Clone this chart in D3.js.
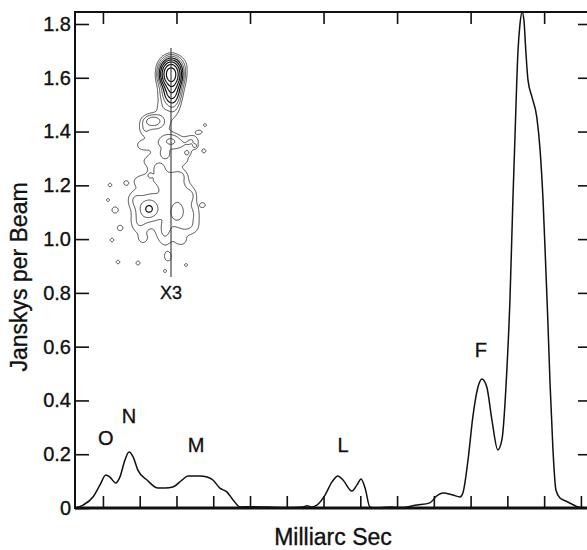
<!DOCTYPE html>
<html>
<head>
<meta charset="utf-8">
<script src="https://cdn.jsdelivr.net/npm/d3@7"></script>
<style>
  html, body { margin: 0; padding: 0; background: #fff; }
  svg { display: block; font-family: "Liberation Sans", Arial, sans-serif; }
  .lbl { fill: #111; stroke: #111; stroke-width: 0.35px; }
</style>
</head>
<body>
<div id="chart"></div>
<script>
// brightness profile along the jet (x in mas, y in Jy/beam)
const profileX = [0.24,0.46,0.73,0.92,1.08,1.19,1.35,1.46,1.60,1.71,1.82,1.95,2.20,2.50,2.69,2.90,3.15,3.31,3.64,3.83,3.99,4.18,4.37,4.54,4.73,5.08,5.90,6.44,6.55,6.68,6.82,7.04,7.23,7.39,7.53,7.77,7.91,8.02,8.13,8.26,8.40,8.81,9.08,9.54,9.89,10.08,10.25,10.52,10.71,10.79,10.93,11.06,11.20,11.31,11.44,11.58,11.74,11.85,11.99,12.07,12.15,12.21,12.29,12.34,12.40,12.45,12.50,12.56,12.67,12.80,12.89,12.97,13.05,13.10,13.16,13.24,13.32,13.43,13.59,13.75,13.92,14.16];
const profileY = [0,0.011,0.041,0.086,0.123,0.115,0.093,0.115,0.179,0.208,0.190,0.141,0.104,0.074,0.074,0.078,0.104,0.119,0.119,0.115,0.104,0.074,0.060,0.030,0.004,0.005,0.002,0.004,0.008,0.004,0.011,0.048,0.097,0.119,0.104,0.063,0.086,0.108,0.074,0.004,0,0.004,0.002,0.011,0.019,0.045,0.056,0.048,0.041,0.056,0.179,0.338,0.450,0.480,0.450,0.327,0.216,0.253,0.524,0.774,1.145,1.395,1.703,1.796,1.845,1.815,1.703,1.592,1.528,1.454,1.331,1.145,0.874,0.699,0.465,0.216,0.067,0.037,0.026,0.015,0.004,0];

const yTicks = [0, 0.2, 0.4, 0.6, 0.8, 1.0, 1.2, 1.4, 1.6, 1.8];
const yTickLabels = ["0", "0.2", "0.4", "0.6", "0.8", "1.0", "1.2", "1.4", "1.6", "1.8"];
const xTicksBottom = [1,2,3,4,5,6,7,8,9,10,11,12,13,14];
const xTicksTop = [1,3,5,7,9,11,13];

// component labels: name, x (mas), level (Jy/beam)
const compNames = ["O", "N", "M", "L", "F"];
const compX = [1.08, 1.71, 3.53, 7.53, 11.28];
const compY = [0.235, 0.317, 0.21, 0.208, 0.56];

// VLBI map inset: gaussian components [u, v, amp, su, sv] in map units
const jetBlobs = [
  [0, 2.9, 200, 0.45, 0.6], [0.1, 4.0, 40, 0.4, 0.9], [0, 3.3, 2.2, 0.95, 1.35],
  [0.25, 2.0, 3, 0.7, 0.5], [-0.4, 4.9, 2.5, 0.5, 0.6],
  [0.3, 5.9, 1.6, 0.45, 0.9], [-0.8, 6.2, 1.3, 0.5, 0.6],
  [-1.8, 7.6, 5, 0.55, 0.35], [-1.4, 7.9, 1.8, 1.1, 0.8], [-2.6, 8.4, 1.3, 0.4, 0.5],
  [0, 9.6, 3.5, 0.6, 0.45], [-1.2, 9.9, 1.5, 0.9, 0.7], [1.3, 10.1, 1.6, 1.0, 0.6],
  [-1.5, 11.6, 1.4, 1.3, 0.6], [0.8, 11.5, 1.3, 0.9, 0.5], [-2.9, 10.0, 1.3, 0.5, 0.4],
  [2.1, 9.5, 1.3, 0.5, 0.4], [2.8, 8.7, 1.4, 0.35, 0.2], [-0.6, 10.8, 2.2, 0.3, 0.3],
  [-2.2, 16.4, 7, 0.55, 0.55], [-2.0, 16.0, 2.2, 1.3, 1.6], [0.8, 16.0, 3, 0.9, 1.3],
  [0.3, 14.0, 2, 1.0, 0.9], [-1.0, 13.2, 1.5, 1.0, 0.6], [-0.6, 18.8, 1.8, 0.6, 1.0],
  [1.5, 18.3, 1.5, 0.9, 0.6], [2.3, 17.0, 1.3, 0.5, 0.9], [-3.2, 17.8, 1.4, 0.6, 0.8],
  [-3.6, 15.5, 1.3, 0.5, 0.6], [-0.3, 21.2, 1.3, 0.4, 0.5], [-1.2, 12.4, 1.2, 0.5, 0.4],
  [-3.0, 13.6, 1.2, 0.6, 0.4], [2.0, 15.0, 1.2, 0.4, 0.5], [1.0, 19.6, 1.3, 0.5, 0.4],
  [-2.8, 19.4, 1.2, 0.4, 0.4], [0.9, 13.0, 1.3, 0.5, 0.4], [0.6, 16.8, 5, 0.4, 0.5]
];
const jetSpeckU = [3.4, 3.3, 2.4, 1.6, -6.1, -6.3, -5.6, -4.5, -5.9, -5.1, -5.3, -3.3, -2.1, 3.2, 1.5, -0.6];
const jetSpeckV = [8.0, 10.6, 10.1, 10.8, 14.0, 15.5, 16.5, 13.8, 19.5, 18.3, 21.7, 21.8, 13.0, 16.0, 22.0, 22.6];
const jetSpeckS = [0.15, 0.17, 0.15, 0.18, 0.18, 0.15, 0.3, 0.2, 0.18, 0.26, 0.18, 0.2, 0.15, 0.2, 0.15, 0.15];
const contourLevels = [1, 2, 4, 8, 16, 32, 64, 128, 256];

const W = 587, H = 550;
const svg = d3.select('#chart').append('svg').attr('width', W).attr('height', H);

const mLeft = 75, mRight = 589, mTop = 12, mBottom = 508;
const x = d3.scaleLinear().domain([0.24, 14.22]).range([mLeft, mRight]);
const y = d3.scaleLinear().domain([0, 1.8]).range([mBottom, 24]);

// frame
svg.append('rect').attr('x', mLeft).attr('y', mTop).attr('width', mRight - mLeft).attr('height', mBottom - mTop)
  .attr('fill', 'none').attr('stroke', '#111').attr('stroke-width', 2);
svg.append('line').attr('x1', mLeft).attr('x2', mRight).attr('y1', mBottom).attr('y2', mBottom)
  .attr('stroke', '#111').attr('stroke-width', 3);

// axes via d3 axis, ticks drawn inward
const axL = svg.append('g').attr('transform', `translate(${mLeft},0)`)
  .call(d3.axisLeft(y).tickValues(yTicks).tickSize(-14).tickPadding(4).tickFormat((d, i) => yTickLabels[i]));
const axR = svg.append('g').attr('transform', `translate(${mRight},0)`)
  .call(d3.axisRight(y).tickValues(yTicks.slice(1)).tickSize(-11).tickFormat(''));
const axB = svg.append('g').attr('transform', `translate(0,${mBottom})`)
  .call(d3.axisBottom(x).tickValues(xTicksBottom).tickSize(-12).tickFormat(''));
const axT = svg.append('g').attr('transform', `translate(0,${mTop})`)
  .call(d3.axisTop(x).tickValues(xTicksTop).tickSize(-12).tickFormat(''));
[axL, axR, axB, axT].forEach(g => {
  g.select('.domain').remove();
  g.selectAll('.tick line').attr('stroke', '#111').attr('stroke-width', 1.6);
});
axL.selectAll('.tick text').attr('font-size', 20).attr('class', 'lbl')
  .attr('font-family', '"Liberation Sans", Arial, sans-serif');

// axis titles
svg.append('text').attr('x', 333).attr('y', 545).attr('text-anchor', 'middle').attr('class', 'lbl')
  .attr('font-size', 23).text('Milliarc Sec');
svg.append('text').attr('transform', 'translate(27,277) rotate(-90)').attr('text-anchor', 'middle')
  .attr('class', 'lbl').attr('font-size', 23).text('Janskys per Beam');

// profile
const line = d3.line().x((d, i) => x(profileX[i])).y(d => y(d)).curve(d3.curveMonotoneX);
svg.append('path').datum(profileY).attr('d', line).attr('fill', 'none')
  .attr('stroke', '#111').attr('stroke-width', 1.5);

// component labels
svg.append('g').selectAll('text').data(compNames).join('text')
  .attr('x', (d, i) => x(compX[i])).attr('y', (d, i) => y(compY[i])).attr('class', 'lbl')
  .attr('text-anchor', 'middle').attr('font-size', 20).text(d => d);

// inset VLBI contour map
const u0 = -7, u1 = 4.5, v0 = 0, v1 = 24, step = 0.1;
const ix = d3.scaleLinear().domain([u0, u1]).range([101, 216]);
const iy = d3.scaleLinear().domain([v0, v1]).range([45, 285]);
const nx = Math.round((u1 - u0) / step), ny = Math.round((v1 - v0) / step);
const comps = jetBlobs.concat(jetSpeckU.map((u, i) => [u, jetSpeckV[i], 1.6, jetSpeckS[i], jetSpeckS[i]]));
const field = new Float64Array(nx * ny);
for (let j = 0; j < ny; j++) {
  const v = v0 + (j + 0.5) * step;
  for (let i = 0; i < nx; i++) {
    const u = u0 + (i + 0.5) * step;
    let s = 0;
    for (const [bu, bv, a, su, sv] of comps) {
      const du = (u - bu) / su, dv = (v - bv) / sv;
      const q = du * du + dv * dv;
      if (q < 40) s += a * Math.exp(-0.5 * q);
    }
    field[j * nx + i] = s;
  }
}
const contours = d3.contours().size([nx, ny]).thresholds(contourLevels)(Array.from(field));
const proj = d3.geoTransform({
  point(px, py) { this.stream.point(ix(u0 + px * step), iy(v0 + py * step)); }
});
svg.append('g').selectAll('path').data(contours).join('path')
  .attr('d', d3.geoPath(proj)).attr('fill', 'none').attr('stroke', '#111')
  .attr('stroke-width', d => d.value >= 8 ? 1.2 : 0.75);

svg.append('line').attr('x1', ix(0)).attr('x2', ix(0)).attr('y1', iy(0.3)).attr('y2', iy(23.2))
  .attr('stroke', '#333').attr('stroke-width', 1.1);
svg.append('text').attr('x', ix(0)).attr('y', 299).attr('text-anchor', 'middle').attr('class', 'lbl')
  .attr('font-size', 18).text('X3');
</script>
</body>
</html>
